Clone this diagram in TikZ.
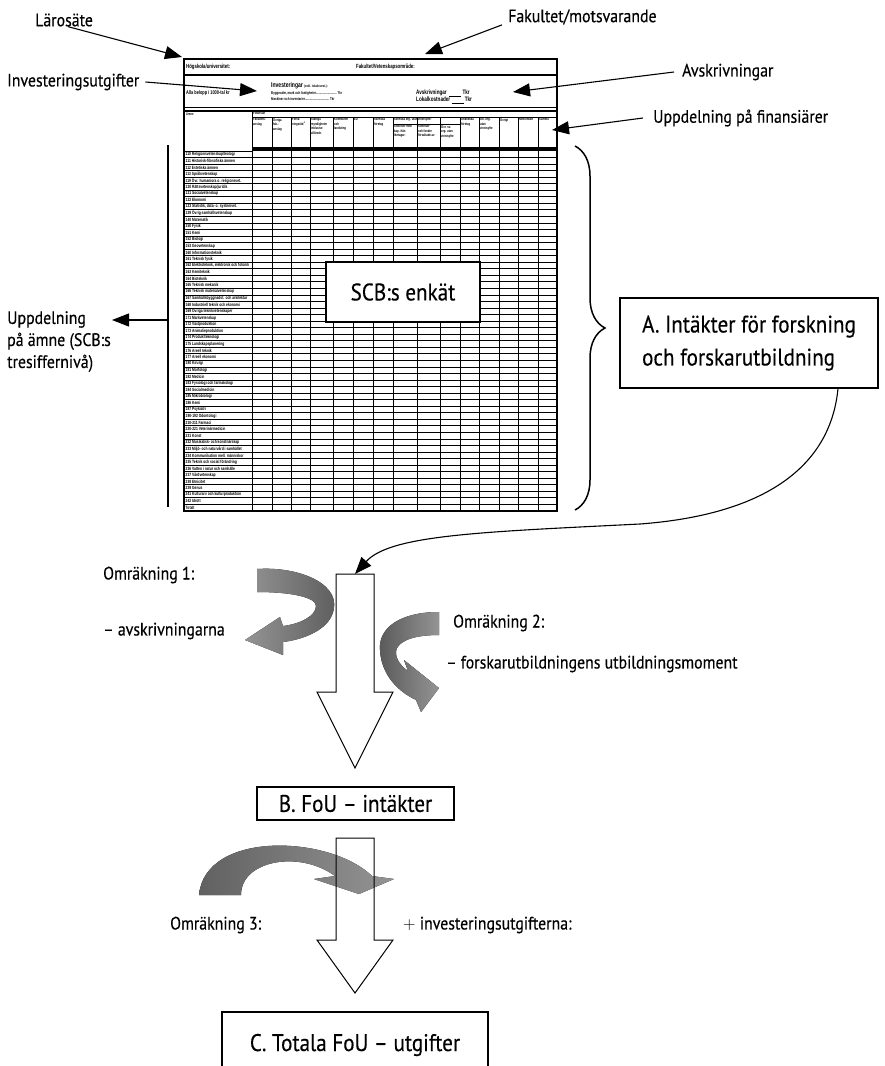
\documentclass[tikz,border=0pt]{standalone}
\usepackage{fontspec}
\setmainfont{PT Sans}[FakeStretch=0.88,FakeBold=0.3]
\newfontfamily\formfont{Liberation Sans}[FakeStretch=0.72]
\usetikzlibrary{arrows.meta,decorations.pathreplacing}

\tikzset{
  lbl/.style={font=\fontsize{18}{22}\selectfont,inner sep=0pt},
  bigbox/.style={draw,line width=1.2pt,fill=white,font=\fontsize{24}{33}\selectfont},
  ptr/.style={line width=1.1pt,-{Triangle[length=17pt,width=13pt]}},
  hollow/.style={draw,line width=1pt},
  swirl/.style={left color=black!62,right color=black!42,draw=none},
  rowlab/.style={anchor=west,inner sep=0pt,font=\formfont\bfseries\fontsize{4.6}{4.6}\selectfont},
  colhead/.style={anchor=north west,inner sep=0pt,align=left,font=\formfont\bfseries\fontsize{3.7}{4.4}\selectfont},
  formtxt/.style={anchor=west,inner sep=0pt,font=\formfont\bfseries\fontsize{6}{6}\selectfont},
  formsmall/.style={anchor=west,inner sep=0pt,font=\formfont\bfseries\fontsize{4}{4}\selectfont},
}

\begin{document}
\begin{tikzpicture}[x=1pt,y=-1pt]
\fill[white] (0,0) rectangle (884,1066);
\useasboundingbox (0,0) rectangle (884,1066);

% --- the SCB form ---
\draw[line width=1.2pt] (184,59) rectangle (557,511);
\draw[line width=2pt] (184,59) -- (557,59);
\draw[line width=1.5pt] (184,75) -- (557,75);
\draw[line width=0.7pt] (184,107.5) -- (557,107.5);
\draw[line width=1.3pt] (184,111) -- (557,111);
\draw[line width=1pt] (252,111) -- (252,511);
\draw[line width=0.7pt] (252,117) -- (557,117);
\draw[line width=0.8pt] (393,124) -- (460,124);
\foreach \x in {272,291,310,333,353,373,393,417,440,460,479,499,518,538}
  \draw[line width=1pt] (\x,117) -- (\x,511);
\fill (252,146.5) rectangle (557,151);
\draw[line width=1pt] (184,151) -- (252,151);
\foreach \i in {1,...,55}
  \draw[line width=0.95pt] (184,{151+6.545*\i}) -- (557,{151+6.545*\i});

\node[formtxt] (hogsk) at (186,67) {Högskola/universitet:};
\node[formtxt] (fakvet) at (356,67) {Fakultet/Vetenskapsområde:};
\node[formtxt,font=\formfont\bfseries\fontsize{5.4}{5.4}\selectfont] (belopp) at (186,93) {Alla belopp i 1000-tal kr};
\node[formtxt,font=\formfont\bfseries\fontsize{7}{7}\selectfont] (invest) at (271,86) {Investeringar \fontsize{3.6}{4}\selectfont (exkl. lokalinvest.):};
\node[formsmall] (bygg) at (271,93) {Byggnader, mark och fastigheter.......................... Tkr};
\node[formsmall] (mask) at (271,99.5) {Maskiner och inventarier.............................. Tkr};
\node[formtxt,font=\formfont\bfseries\fontsize{6.4}{6.4}\selectfont] (avskr) at (416,93.5) {Avskrivningar \ \underline{\hspace{12pt}} Tkr};
\node[formtxt,font=\formfont\bfseries\fontsize{6.4}{6.4}\selectfont] (lokal) at (416,100.5) {Lokalkostnader \underline{\hspace{12pt}} Tkr};
\node[colhead] (amnehead) at (186,112.5) {Ämne};
\node[colhead] (finhead) at (253,112) {Finansiär};
\node[colhead] (svorg) at (394,118) {Svenska org. utan vinstsyfte:};

\foreach \x/\y/\t in {253/118/{Fakultets-\\anslag}, 273/118/{Övriga\\fak.-\\anslag},
    292/118/{Forsk-\\ningsråd \textsuperscript{1}}, 311/118/{Statliga\\myndigheter\\inklusive\\affärsdr.},
    334/118/{Kommuner\\och\\landsting}, 354/118/{EU}, 374/118/{Svenska\\företag},
    394/125/{Stiftelser med\\kap. från\\löntagar-}, 418/125/{Stiftelser\\och fonder\\förvaltade av},
    441/125/{Övr. sv.\\org. utan\\vinstsyfte}, 461/118/{Utländska\\företag},
    480/118/{Utl. org.\\utan\\vinstsyfte}, 500/118/{Övrigt}, 519/118/{Nettointäkt}, 539/118/{Summa}}
  \node[colhead] (col\x) at (\x,\y) {\t};

\foreach \t [count=\i] in {110 Religionsvetenskap/teologi, 111 Historisk-filosofiska ämnen,
    112 Estetiska ämnen, 113 Språkvetenskap, 119 Övr. humaniora o. religionsvet.,
    120 Rättsvetenskap/juridik, 121 Socialvetenskap, 122 Ekonomi,
    {123 Statistik, data- o. systemvet.}, 129 Övrig samhällsvetenskap, 140 Matematik,
    150 Fysik, 151 Kemi, 152 Biologi, 153 Geovetenskap, 160 Informationsteknik,
    161 Teknisk fysik, {162 Elektroteknik, elektronik och fotonik}, 163 Kemiteknik,
    164 Bioteknik, 165 Teknisk mekanik, 166 Teknisk materialvetenskap,
    167 Samhällsbyggnadst. och arkitektur, 168 Industriell teknik och ekonomi,
    169 Övriga teknikvetenskaper, 171 Markvetenskap, 172 Växtproduktion,
    173 Animalieproduktion, 174 Produktteknologi, 175 Landskapsplanering,
    176 Areell teknik, 177 Areell ekonomi, 180 Kirurgi, 181 Morfologi, 182 Medicin,
    183 Fysiologi och farmakologi, 184 Socialmedicin, 185 Mikrobiologi, 186 Kemi,
    187 Psykiatri, 190-192 Odontologi, 210-211 Farmaci, 220-221 Veterinärmedicin,
    231 Konst, 232 Musikalisk- och konstnärskap, 233 Miljö- och naturvård i samhället,
    234 Kommunikation mell. människor, 235 Teknik och social förändring,
    236 Vatten i natur och samhälle, 237 Vårdvetenskap, 238 Etnicitet, 239 Genus,
    241 Kulturarv och kulturproduktion, 242 Idrott, Totalt}
  \node[rowlab] (row\i) at (185.5,{151+6.545*\i-3.2}) {\t};

\node[bigbox,minimum width=154pt,minimum height=60pt] (enkat) at (403,292) {SCB:s enkät};

% --- labels around the form ---
\node[lbl,anchor=west] (laro) at (35,20) {Lärosäte};
\node[lbl,anchor=west] (fakult) at (508,17) {Fakultet/motsvarande};
\node[lbl,anchor=west] (invutg) at (7,82) {Investeringsutgifter};
\node[lbl,anchor=west] (avskrl) at (682,72) {Avskrivningar};
\node[lbl,anchor=west] (finans) at (653,118) {Uppdelning på finansiärer};
\node[lbl,anchor=north west,align=left] (amne) at (7,311) {Uppdelning\\på ämne (SCB:s\\tresiffernivå)};

\coordinate (formNW) at (182,57);
\coordinate (formTop) at (425,54);
\coordinate (invTip) at (257,91);
\coordinate (avsTip) at (513,92);
\coordinate (finTip) at (552,130);
\coordinate (amneBar) at (168,320);
\coordinate (amneTip) at (112,320);

\draw[ptr] ([xshift=4pt]laro.south) -- (formNW);
\draw[ptr] ([xshift=-6pt]fakult.south west) -- (formTop);
\draw[ptr] ([xshift=6pt]invutg.east) -- (invTip);
\draw[ptr] ([xshift=-8pt]avskrl.west) -- (avsTip);
\draw[ptr] ([xshift=-10pt]finans.west) -- (finTip);
\draw[line width=2pt] (168,145) -- (168,507);
\draw[ptr] (amneBar) -- (amneTip);

% --- brace and result A ---
\draw[decorate,decoration={brace,amplitude=30pt},line width=1.5pt] (575,146) -- (575,510);
\node[bigbox,minimum width=258pt,minimum height=90pt,align=left] (abox) at (749,343)
  {A. Intäkter för forskning\\och forskarutbildning};

% --- conversion 1 and 2 ---
\coordinate (in1) at (355,574);
\fill[left color=black!42,right color=black!65] (257,569) .. controls (300,566) and (345,585) .. (332,615)
  .. controls (325,632) and (300,640) .. (283,642) -- (283,655) -- (245,640) -- (280,617) -- (283,626)
  .. controls (300,624) and (316,616) .. (316,606) .. controls (316,597) and (290,592) .. (257,592) -- cycle;
\fill[left color=black!65,right color=black!42] (439,612) .. controls (400,612) and (378,628) .. (380,650)
  .. controls (381,672) and (395,690) .. (416,700) -- (421,712) -- (439,688) -- (404,660) -- (408,671)
  .. controls (398,664) and (394,655) .. (397,648) .. controls (402,639) and (418,635) .. (439,635) -- cycle;
\draw[hollow] (336,574) -- (374,574) -- (374,692) -- (393,692) -- (355,768) -- (317,692) -- (336,692) -- cycle;
\draw[ptr] ([xshift=89pt]abox.south) .. controls (830,470) and (760,515) .. (640,524)
  .. controls (480,532) and (390,535) .. (in1);

\node[lbl,anchor=west] (om1) at (103,575) {Omräkning 1:};
\node[lbl,anchor=west] (om1t) at (103,631) {– avskrivningarna};
\node[lbl,anchor=west] (om2) at (453,623) {Omräkning 2:};
\node[lbl,anchor=west] (om2t) at (446,664) {– forskarutbildningens utbildningsmoment};

\node[bigbox,minimum width=197pt,minimum height=33pt] (bbox) at (355.5,803.5) {B. FoU – intäkter};

% --- conversion 3 ---
\fill[swirl] (199,895) -- (241,895) .. controls (241,860) and (300,850) .. (335,876) -- (314,879)
  -- (359,894) -- (394,879) -- (372,876) .. controls (330,835) and (205,830) .. (199,895) -- cycle;
\draw[hollow] (336,838) -- (374,838) -- (374,940) -- (393,940) -- (355,993) -- (317,940) -- (336,940) -- cycle;

\node[lbl,anchor=west] (om3) at (170,925) {Omräkning 3:};
\node[lbl,anchor=west] (om3t) at (403,925) {$+$ investeringsutgifterna:};

\node[bigbox,minimum width=266pt,minimum height=66pt] (cbox) at (355,1045) {C. Totala FoU – utgifter};
\end{tikzpicture}
\end{document}
